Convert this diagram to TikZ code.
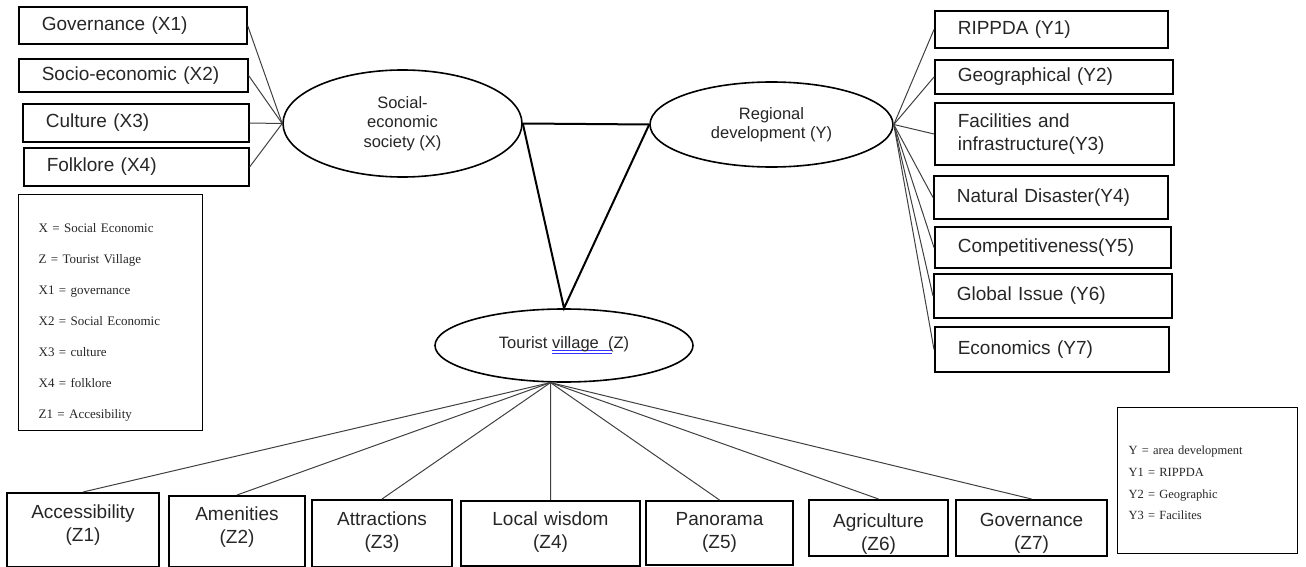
\documentclass[tikz,border=0pt]{standalone}
\usepackage{fontspec}
\setmainfont{Liberation Sans}
\newfontfamily\legendfont{Liberation Serif}
\usepackage{tikz}
\usetikzlibrary{shapes.geometric}
\usetikzlibrary{positioning}

\begin{document}
\begin{tikzpicture}[x=1pt,y=-1pt,
    every node/.style={text=black!85},
    ind/.style={draw,line width=1.6pt,anchor=west,inner xsep=23pt,inner ysep=0pt,align=left,font=\fontsize{19}{23}\selectfont},
    zind/.style={draw,line width=1.6pt,anchor=north,inner sep=0pt,align=center,font=\fontsize{19}{23}\selectfont},
    lat/.style={draw,ellipse,line width=1.6pt,inner sep=0pt,align=center,font=\fontsize{16.5}{19.5}\selectfont},
    legend/.style={draw,line width=1.4pt,anchor=north west,inner ysep=0pt,align=left},
    lnk/.style={draw=black!75,line width=1pt},
    rel/.style={line width=2pt}]
    \useasboundingbox (0,0) rectangle (1306,567);
    \node[lat,minimum width=239pt,minimum height=107pt] (X) at (402.5,123.5) {Social-\\economic\\society (X)};
    \node[lat,minimum width=243pt,minimum height=85pt] (Y) at (771.5,124.5) {Regional\\development (Y)};
    \node[lat,minimum width=258pt,minimum height=73pt] (Z) at (564,345.5)
        {Tourist \rlap{\color{blue!80}\rule[-2.5pt]{60pt}{1pt}}\rlap{\color{blue!80}\rule[-5pt]{60pt}{1pt}}village\ \ (Z)};
    \node[ind,text width=182pt,minimum height=37pt] (X1) at (18,25.5) {Governance (X1)};
    \node[ind,text width=183pt,minimum height=33pt] (X2) at (18,75.5) {Socio-economic (X2)};
    \node[ind,text width=180pt,minimum height=38pt] (X3) at (22,123) {Culture (X3)};
    \node[ind,text width=179pt,minimum height=38pt] (X4) at (23,167) {Folklore (X4)};
    \node[ind,text width=187pt,minimum height=37pt] (Y1) at (934,29.5) {RIPPDA (Y1)};
    \node[ind,text width=192pt,minimum height=34pt] (Y2) at (934,77) {Geographical (Y2)};
    \node[ind,text width=193pt,minimum height=62pt] (Y3) at (934,134) {Facilities and\\infrastructure(Y3)};
    \node[ind,text width=188pt,minimum height=43pt] (Y4) at (933,197.5) {Natural Disaster(Y4)};
    \node[ind,text width=190pt,minimum height=41pt] (Y5) at (934,247.5) {Competitiveness(Y5)};
    \node[ind,text width=192pt,minimum height=44pt] (Y6) at (933,296) {Global Issue (Y6)};
    \node[ind,text width=188pt,minimum height=45pt] (Y7) at (934,349.5) {Economics (Y7)};
    \node[zind,text width=152pt,text height=26pt,text depth=48pt] (Z1) at (83,492) {Accessibility\\(Z1)};
    \node[zind,text width=136pt,text height=25pt,text depth=46pt] (Z2) at (237,495) {Amenities\\(Z2)};
    \node[zind,text width=140pt,text height=26pt,text depth=41pt] (Z3) at (382,499) {Attractions\\(Z3)};
    \node[zind,text width=179pt,text height=25pt,text depth=40pt] (Z4) at (550.5,500) {Local wisdom\\(Z4)};
    \node[zind,text width=147pt,text height=25pt,text depth=39pt] (Z5) at (719.5,500) {Panorama\\(Z5)};
    \node[zind,text width=139pt,text height=28pt,text depth=28pt] (Z6) at (878.5,499) {Agriculture\\(Z6)};
    \node[zind,text width=151pt,text height=27pt,text depth=29pt] (Z7) at (1031.5,499) {Governance\\(Z7)};
    \node[legend,inner xsep=20pt,text width=144pt,text height=38pt,text depth=198pt,font=\legendfont\fontsize{13}{31}\selectfont] (LX) at (18,194)
        {X = Social Economic\\Z = Tourist Village\\X1 = governance\\X2 = Social Economic\\X3 = culture\\X4 = folklore\\Z1 = Accesibility};
    \node[legend,inner xsep=11pt,text width=158pt,text height=47pt,text depth=99pt,font=\legendfont\fontsize{12.5}{21.7}\selectfont] (LY) at (1117,407)
        {Y = area development\\Y1 = RIPPDA\\Y2 = Geographic\\Y3 = Facilites};
    \foreach \n in {X1,X2,X3,X4}
        \draw[lnk] (\n.east) -- (X.west);
    \foreach \n in {Y1,Y2,Y3,Y4,Y5,Y6,Y7}
        \draw[lnk] (Y.east) -- (\n.west);
    \foreach \n in {Z1,Z2,Z3,Z4,Z5,Z6,Z7}
        \draw[lnk] (Z.250) -- (\n.north);
    \draw[rel] (X.east) -- (Y.west);
    \draw[rel] (X.east) -- (Z.north) -- (Y.west);
\end{tikzpicture}
\end{document}
